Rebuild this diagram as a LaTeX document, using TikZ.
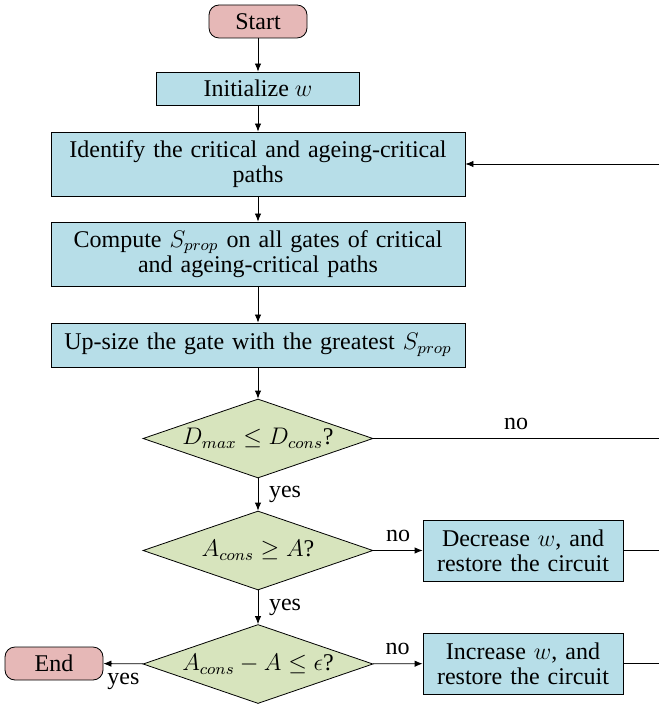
\documentclass[tikz,border=0pt]{standalone}
\usepackage{fontspec}
\setmainfont{Liberation Serif}
\usetikzlibrary{shapes.geometric,arrows.meta}
\definecolor{termfill}{RGB}{230,184,183}
\definecolor{procfill}{RGB}{183,222,232}
\definecolor{decfill}{RGB}{215,228,189}
\tikzset{
  fnt/.style={font=\fontsize{12}{12.5}\selectfont},
  term/.style={draw, fill=termfill, rounded corners=5pt, minimum width=49pt, minimum height=16.5pt, inner sep=1pt, fnt},
  proc/.style={draw, fill=procfill, align=center, inner sep=1pt, fnt},
  dec/.style={draw, fill=decfill, diamond, aspect=2.9, inner sep=0pt, minimum width=115pt, minimum height=39.5pt, fnt},
  conn/.style={draw, -{Latex[length=4pt,width=3.2pt]}},
  lbl/.style={fnt}
}
\begin{document}
\begin{tikzpicture}[x=0.5pt,y=-0.5pt]
\useasboundingbox (0,0) rectangle (659,704);
\node[term] (start) at (258,21.5) {Start};
\node[proc, minimum width=101.5pt, minimum height=16.5pt] (init) at (258,88.5) {Initialize $w$};
\node[proc, text width=205pt, minimum height=32pt] (ident) at (258,164) {Identify the critical and ageing-critical\\paths};
\node[proc, text width=205pt, minimum height=32pt] (comp) at (258,254) {Compute $S_{prop}$ on all gates of critical\\and ageing-critical paths};
\node[proc, text width=205pt, minimum height=22pt] (up) at (258,345) {Up-size the gate with the greatest $S_{prop}$};
\node[dec] (d1) at (258,438.5) {$D_{max} \le D_{cons}$?};
\node[dec] (d2) at (258,550.5) {$A_{cons} \ge A$?};
\node[dec] (d3) at (258,664) {$A_{cons} - A \le \epsilon$?};
\node[proc, text width=98pt, minimum height=30.5pt] (dcr) at (523,550.5) {Decrease $w$, and\\restore the circuit};
\node[proc, text width=98pt, minimum height=30.5pt] (inc) at (523,663.5) {Increase $w$, and\\restore the circuit};
\node[term] (end) at (54,663.5) {End};
\coordinate (r1) at (659,438.5);
\coordinate (r2) at (659,550.5);
\coordinate (r3) at (659,663.5);
\coordinate (r0) at (659,164);

\path[conn] (start) -- (init);
\path[conn] (init) -- (ident);
\path[conn] (ident) -- (comp);
\path[conn] (comp) -- (up);
\path[conn] (up) -- (d1);
\path[conn] (d1) -- node[lbl, right, xshift=2pt] {yes} (d2);
\path[conn] (d2) -- node[lbl, right, xshift=2pt] {yes} (d3);
\path[conn] (d3) -- node[lbl, below, yshift=-1pt] {yes} (end);
\path[conn] (d2) -- node[lbl, above, yshift=1pt] {no} (dcr);
\path[conn] (d3) -- node[lbl, above, yshift=1pt] {no} (inc);
\draw (d1.east) -- node[lbl, above, yshift=1pt] {no} (r1);
\draw (dcr) -- (r2);
\draw (inc) -- (r3);
\path[conn] (r0) -- (ident);
\end{tikzpicture}
\end{document}
